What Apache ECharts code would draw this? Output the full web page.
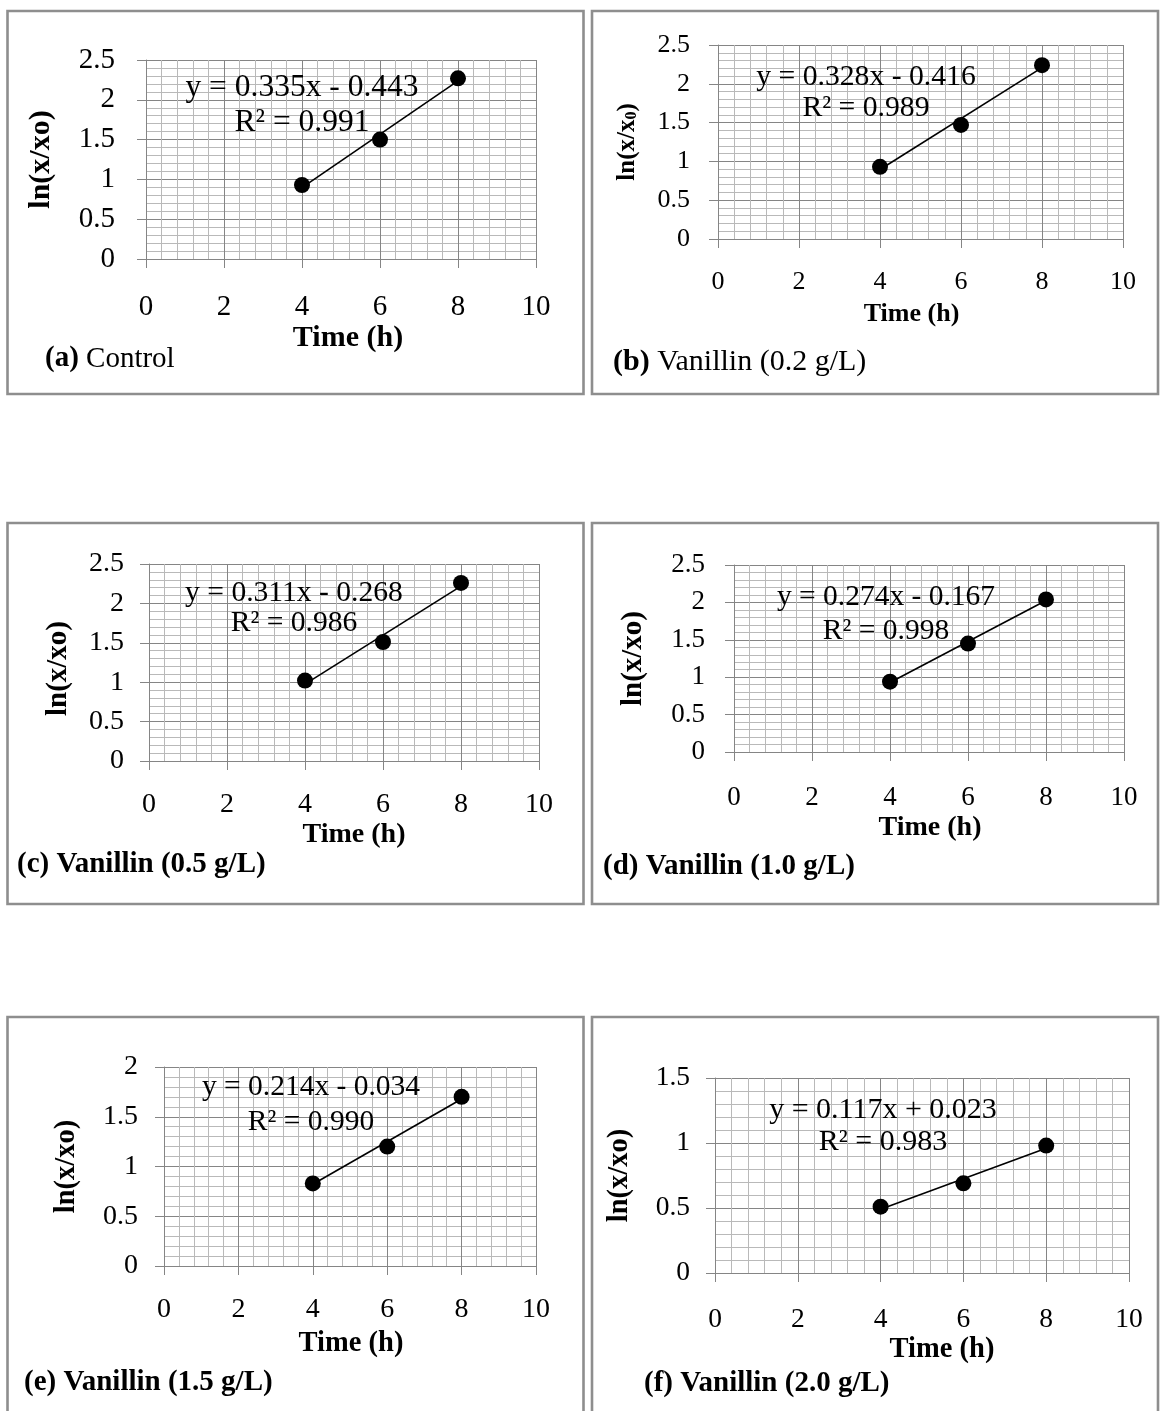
<!DOCTYPE html>
<html>
<head>
<meta charset="utf-8">
<script src="https://cdn.jsdelivr.net/npm/echarts@6.0.0/dist/echarts.min.js"></script>
<style>
  html, body { margin: 0; padding: 0; background: #ffffff; }
  #chart { width: 1160px; height: 1411px; }
</style>
</head>
<body>
<div id="chart"></div>
<script>
// Sampling times (h) and ln(x/x0) for each vanillin level
const timeH = [4, 6, 8];
const controlLn = [0.93, 1.50, 2.27];
const van02Ln = [0.93, 1.47, 2.24];
const van05Ln = [1.02, 1.51, 2.26];
const van10Ln = [0.94, 1.45, 2.04];
const van15Ln = [0.83, 1.20, 1.70];
const van20Ln = [0.51, 0.69, 0.98];

// Linear fits reported for each panel
const slopes = [0.335, 0.328, 0.311, 0.274, 0.214, 0.117];
const intercepts = [-0.443, -0.416, -0.268, -0.167, -0.034, 0.023];
const rSquared = [0.991, 0.989, 0.986, 0.998, 0.990, 0.983];

// Axis ranges and tick steps
const xRange = [0, 10];
const xStep = 2;
const yMaxes = [2.5, 2.5, 2.5, 2.5, 2, 1.5];
const yStep = 0.5;

// Panel captions and axis titles
const panelTags = ['(a)', '(b)', '(c)', '(d)', '(e)', '(f)'];
const panelNames = ['Control', 'Vanillin (0.2 g/L)', 'Vanillin (0.5 g/L)',
                    'Vanillin (1.0 g/L)', 'Vanillin (1.5 g/L)', 'Vanillin (2.0 g/L)'];
const xTitle = 'Time (h)';
const yTitle = 'ln(x/xo)';

const seriesLn = [controlLn, van02Ln, van05Ln, van10Ln, van15Ln, van20Ln];

// Layout of the six framed panels (pixels)
const FONT = '"Liberation Serif", "Times New Roman", Times, serif';
const layout = [
  { box: [7.5, 11, 576, 383], grid: [146, 60, 390, 199], tick: 29, xName: 30, yName: 30, eq: 31.5, cap: 29,
    yGap: 90, xGap: 64, xMargin: 34, yMargin: 31, xNameDx: 7, yNameDy: 0, eqPos: [302, 88, 123], capPos: [45, 359], capAllBold: false, sub: false },
  { box: [592, 11, 566, 383], grid: [718, 45, 405, 194], tick: 26, xName: 26, yName: 25, eq: 29.7, cap: 30,
    yGap: 78, xGap: 62, xMargin: 30, yMargin: 28, xNameDx: -9, yNameDy: 0, eqPos: [866, 77, 108], capPos: [613, 362], capAllBold: false, sub: true },
  { box: [7.5, 523, 576, 381], grid: [149, 564, 390, 197], tick: 28, xName: 28, yName: 29, eq: 29.6, cap: 29,
    yGap: 76, xGap: 60, xMargin: 30, yMargin: 25, xNameDx: 10, yNameDy: 6, eqPos: [294, 593, 623], capPos: [17, 865], capAllBold: true, sub: false },
  { box: [592, 523, 566, 381], grid: [734, 565, 390, 187], tick: 27, xName: 28, yName: 29, eq: 29.5, cap: 29,
    yGap: 86, xGap: 62, xMargin: 32, yMargin: 29, xNameDx: 1, yNameDy: 0, eqPos: [886, 597, 631], capPos: [603, 867], capAllBold: true, sub: false },
  { box: [7.5, 1017, 576, 420], grid: [164, 1067, 372, 199], tick: 28, xName: 28.5, yName: 28.5, eq: 29.5, cap: 29,
    yGap: 83, xGap: 63, xMargin: 30, yMargin: 26, xNameDx: 1, yNameDy: 0, eqPos: [311, 1087, 1122], capPos: [24, 1383], capAllBold: true, sub: false },
  { box: [592, 1017, 566, 420], grid: [715, 1078, 414, 195], tick: 27.5, xName: 28.5, yName: 28.5, eq: 30, cap: 29,
    yGap: 81, xGap: 61, xMargin: 33, yMargin: 25, xNameDx: 20, yNameDy: 0, eqPos: [883, 1110, 1142], capPos: [644, 1384], capAllBold: true, sub: false }
];

const MAJOR = '#858585';
const MINOR = '#b9b9b9';

function fmtEquation(s, b) {
  return 'y = ' + s.toFixed(3) + 'x ' + (b < 0 ? '-' : '+') + ' ' + Math.abs(b).toFixed(3);
}

const grids = [], xAxes = [], yAxes = [], series = [], graphics = [];

layout.forEach(function (L, i) {
  grids.push({
    left: L.grid[0], top: L.grid[1], width: L.grid[2], height: L.grid[3],
    containLabel: false, outerBoundsMode: 'none'
  });

  const xPad = L.xNameDx >= 0 ? [0, 0, 0, 2 * L.xNameDx] : [0, -2 * L.xNameDx, 0, 0];
  xAxes.push({
    gridIndex: i, type: 'value', min: xRange[0], max: xRange[1], interval: xStep,
    name: xTitle, nameLocation: 'middle', nameGap: L.xGap,
    nameTextStyle: { fontFamily: FONT, fontSize: L.xName, fontWeight: 'bold', color: '#000', lineHeight: L.xName, padding: xPad },
    axisLine: { show: true, onZero: false, lineStyle: { color: MAJOR, width: 1 } },
    axisTick: { show: true, inside: false, length: 9, lineStyle: { color: MAJOR, width: 1 } },
    axisLabel: { show: true, fontFamily: FONT, fontSize: L.tick, color: '#000', margin: L.xMargin, lineHeight: L.tick },
    splitLine: { show: true, lineStyle: { color: MAJOR, width: 1 } },
    minorTick: { show: false, splitNumber: 5 },
    minorSplitLine: { show: true, lineStyle: { color: MINOR, width: 1 } }
  });

  const yPad = L.yNameDy >= 0 ? [0, 2 * L.yNameDy, 0, 0] : [0, 0, 0, -2 * L.yNameDy];
  let yName = yTitle;
  let yNameStyle = { fontFamily: FONT, fontSize: L.yName, fontWeight: 'bold', color: '#000', lineHeight: L.yName, padding: yPad };
  if (L.sub) {
    yName = '{m|ln(x/x}{s|0}{m|)}';
    yNameStyle = {
      padding: yPad,
      rich: {
        m: { fontFamily: FONT, fontSize: L.yName, fontWeight: 'bold', color: '#000', lineHeight: L.yName + 4, verticalAlign: 'bottom' },
        s: { fontFamily: FONT, fontSize: Math.round(L.yName * 0.62), fontWeight: 'bold', color: '#000', lineHeight: 13, verticalAlign: 'bottom' }
      }
    };
  }
  yAxes.push({
    gridIndex: i, type: 'value', min: 0, max: yMaxes[i], interval: yStep,
    name: yName, nameLocation: 'middle', nameGap: L.yGap, nameRotate: 90,
    nameTextStyle: yNameStyle,
    axisLine: { show: true, onZero: false, lineStyle: { color: MAJOR, width: 1 } },
    axisTick: { show: true, inside: false, length: 9, lineStyle: { color: MAJOR, width: 1 } },
    axisLabel: { show: true, fontFamily: FONT, fontSize: L.tick, color: '#000', margin: L.yMargin },
    splitLine: { show: true, lineStyle: { color: MAJOR, width: 1 } },
    minorTick: { show: false, splitNumber: 5 },
    minorSplitLine: { show: true, lineStyle: { color: MINOR, width: 1 } }
  });

  // fitted line over the sampled time span
  const t0 = timeH[0], t1 = timeH[timeH.length - 1];
  series.push({
    type: 'line', xAxisIndex: i, yAxisIndex: i, silent: true, symbol: 'none',
    lineStyle: { color: '#000', width: 1.6, opacity: 1 },
    data: [[t0, slopes[i] * t0 + intercepts[i]], [t1, slopes[i] * t1 + intercepts[i]]],
    z: 3
  });
  series.push({
    type: 'scatter', xAxisIndex: i, yAxisIndex: i, silent: true,
    symbol: 'circle', symbolSize: 16,
    itemStyle: { color: '#000', opacity: 1, borderWidth: 0 },
    data: timeH.map(function (t, k) { return [t, seriesLn[i][k]]; }),
    z: 4
  });

  // panel frame
  graphics.push({
    type: 'rect', silent: true, z: 0,
    shape: { x: L.box[0], y: L.box[1], width: L.box[2], height: L.box[3] },
    style: { fill: 'none', stroke: '#8e8e8e', lineWidth: 2.6 }
  });

  // regression equation and R²
  graphics.push({
    type: 'text', silent: true, z: 10, x: L.eqPos[0], y: L.eqPos[1],
    style: { text: fmtEquation(slopes[i], intercepts[i]), font: L.eq + 'px ' + FONT, fill: '#000',
             textAlign: 'center', textVerticalAlign: 'middle' }
  });
  graphics.push({
    type: 'text', silent: true, z: 10, x: L.eqPos[0], y: L.eqPos[2],
    style: { text: 'R\u00B2 = ' + rSquared[i].toFixed(3), font: L.eq + 'px ' + FONT, fill: '#000',
             textAlign: 'center', textVerticalAlign: 'middle' }
  });

  // caption
  graphics.push({
    type: 'text', silent: true, z: 10, x: L.capPos[0], y: L.capPos[1],
    style: {
      text: '{t|' + panelTags[i] + '}{n| ' + panelNames[i] + '}',
      textAlign: 'left', textVerticalAlign: 'middle',
      rich: {
        t: { fontFamily: FONT, fontSize: L.cap, fontWeight: 'bold', fill: '#000' },
        n: { fontFamily: FONT, fontSize: L.cap, fontWeight: L.capAllBold ? 'bold' : 'normal', fill: '#000' }
      }
    }
  });
});

const chart = echarts.init(document.getElementById('chart'), null, { renderer: 'canvas' });
chart.setOption({
  backgroundColor: '#ffffff',
  animation: false,
  grid: grids,
  xAxis: xAxes,
  yAxis: yAxes,
  series: series,
  graphic: { elements: graphics }
});
</script>
</body>
</html>
